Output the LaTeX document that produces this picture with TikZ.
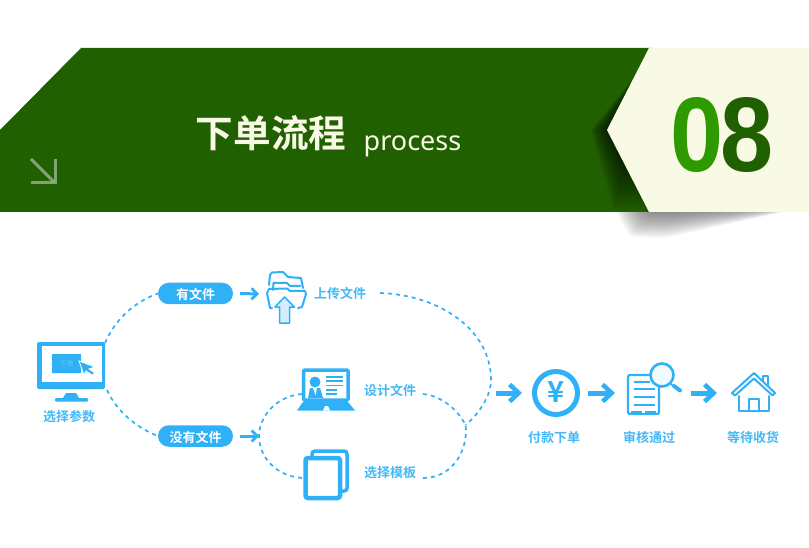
\documentclass[tikz,border=0pt]{standalone}
\usepackage{fontspec}
\usetikzlibrary{shapes.misc,arrows.meta}
\setmainfont{Noto Sans}
\newfontfamily\cjk{Noto Sans CJK SC}[BoldFont={Noto Sans CJK SC Bold}]
\newfontfamily\numfont{Liberation Sans}
\definecolor{bandgreen}{HTML}{216000}
\definecolor{cream}{HTML}{F9FAE6}
\definecolor{skyb}{HTML}{30B0F6}
\definecolor{lime}{HTML}{2E9A00}
\definecolor{paleb}{HTML}{D6EEFC}
\tikzset{
  x=1pt,y=-1pt,
  pill/.style={rounded rectangle,fill=skyb,text=white,minimum width=75pt,minimum height=21.5pt,inner sep=0pt,text height=12pt,text depth=0pt,font=\cjk\bfseries\fontsize{13}{13}\selectfont},
  lab/.style={text=skyb,inner sep=0pt,text height=10.5pt,text depth=1.5pt,font=\cjk\bfseries\fontsize{13}{13}\selectfont,opacity=.9},
  dashline/.style={draw=skyb,line width=1.7pt,dash pattern=on 4pt off 4pt},
  thick arrow/.style={draw=skyb,line width=5pt,-{Straight Barb[length=9pt,width=17pt,line width=4.6pt]}},
  small arrow/.style={draw=skyb,line width=3pt,-{Straight Barb[length=5.5pt,width=11pt,line width=2.8pt]}},
  iconline/.style={draw=skyb,line width=2pt,line join=round,line cap=round},
}
\begin{document}
\begin{tikzpicture}
\useasboundingbox (0,0) rectangle (809,548);
% drop shadow under the cream tab
\foreach \i in {0,...,15}{
  \fill[black,opacity=.035,rounded corners=5pt] (612+\i*1.8,205) -- (815,205) -- (665,{212+(26-1.6*\i)}) -- (630+\i*1.3,{212+(25-1.6*\i)}) -- cycle;
}
% band
\fill[bandgreen] (0,130) -- (81,48) -- (652,48) -- (652,212) -- (0,212) -- cycle;
\begin{scope}
\clip (0,48) rectangle (652,212);
\foreach \i in {0,...,17}{
  \fill[black!70!bandgreen,opacity=.08] (650,58) -- (606-\i*.9,130) -- (648-\i*2,212) -- cycle;
}
\end{scope}
\fill[cream] (649,48) -- (809,48) -- (809,212) -- (649,212) -- (607,130) -- cycle;
% corner arrow
\draw[bandgreen!45!white,opacity=.8,line width=3pt] (31,159) -- (54,182);
\draw[bandgreen!45!white,opacity=.8,line width=3pt] (55.5,159) -- (55.5,183) -- (31,183);
% titles
\node[text=cream,inner sep=0pt,font=\cjk\bfseries\fontsize{37.6}{38}\selectfont] (title) at (271,133) {下单流程};
\node[text=cream,inner sep=0pt,anchor=base west,font=\fontsize{27}{27}\selectfont] (sub) at (363.5,151) {process};
\node[inner sep=0pt,font=\numfont\bfseries\fontsize{106}{106}\selectfont,xscale=.9,text=lime] (num0) at (697.5,135) {0};
\node[inner sep=0pt,font=\numfont\bfseries\fontsize{106}{106}\selectfont,xscale=.9,text=bandgreen] (num8) at (747.5,135) {8};

% monitor
\fill[skyb,rounded corners=2pt] (37,342) rectangle (105,389);
\fill[white] (41.5,345.5) rectangle (101.5,382);
\fill[skyb] (63,398) -- (66,393) -- (76,393) -- (79,398) -- cycle;
\fill[skyb,rounded corners=1pt] (55,398) rectangle (88,401.5);
\node[fill=skyb,minimum width=29pt,minimum height=19pt,inner sep=0pt,text=white!30!skyb,font=\cjk\fontsize{7}{7}\selectfont,rounded corners=.5pt] (btn) at (66.5,363.5) {下单};
\fill[skyb,draw=white,line width=.8pt] (79,361) -- (95,367) -- (89,369) -- (95,373) -- (92,375) -- (86,371) -- (84,375) -- cycle;
\coordinate (monTop) at (105,343);
\coordinate (monBot) at (107,390);

% pills and labels
\node[pill] (has) at (195.5,293.5) {有文件};
\node[pill] (none) at (195.5,436) {没有文件};
\node[lab] (lpick) at (69,417) {选择参数};
\node[lab] (lup) at (340,294) {上传文件};
\node[lab] (ldes) at (390,391) {设计文件};
\node[lab] (ltpl) at (390,473) {选择模板};
\node[lab] (lpay) at (554,438) {付款下单};
\node[lab] (lrev) at (649,438) {审核通过};
\node[lab] (lwait) at (753,438) {等待收货};

% connector ends
\coordinate (folderIn) at (259,294);
\coordinate (loopIn) at (259,436);
\coordinate (lapL) at (302,394);
\coordinate (tplL) at (302,478);
\coordinate (upEnd) at (380,293);
\coordinate (desEnd) at (423,394);
\coordinate (tplEnd) at (423,478);
\coordinate (meet) at (465.5,425);
\coordinate (mergeOut) at (522,393);
\coordinate (mergeIn) at (496,393);
\coordinate (yenR) at (588,393);
\coordinate (docL) at (615,393);
\coordinate (docR) at (691,393);
\coordinate (homeL) at (717,393);

% dashed connectors
\draw[dashline] (monTop) .. controls (116,318) and (135,302) .. (has.west);
\draw[dashline] (monBot) .. controls (116,410) and (135,427) .. (none.west);
\draw[dashline] (upEnd) .. controls (440,295) and (491,330) .. (491,380) .. controls (491,395) and (480,413) .. (meet);
\draw[dashline] (desEnd) .. controls (442,396) and (458,410) .. (meet);
\draw[dashline] (tplEnd) .. controls (450,478) and (466,455) .. (466,430) -- (meet);
\draw[dashline] (lapL) .. controls (275,396) and (259,418) .. (loopIn);
\draw[dashline] (tplL) .. controls (275,476) and (259,456) .. (loopIn);

% arrows
\draw[small arrow] (has.east) ++(7,0) -- (folderIn);
\draw[small arrow] (none.east) ++(7,0) -- (loopIn);
\draw[thick arrow] (mergeIn) -- (mergeOut);
\draw[thick arrow] (yenR) -- (docL);
\draw[thick arrow] (docR) -- (homeL);

% upload icon
\draw[iconline] (269,285) -- (270,275) -- (272,272.5) -- (283,272) -- (288,277) -- (301,278) -- (303,288);
\draw[iconline] (273,290) -- (273.5,283) -- (287,283) -- (290,286) -- (300,286);
\draw[iconline] (272,308) -- (270,308) -- (267,293) -- (269,289) -- (287,288.5) -- (290,291) -- (305,291) -- (306,294) -- (302,307) -- (298,308);
\fill[paleb,draw=skyb,line width=1.5pt,line join=round] (284.5,297) -- (275,307) -- (279.5,307) -- (279.5,323) -- (289.5,323) -- (289.5,307) -- (294.5,307) -- cycle;

% laptop icon
\draw[skyb,line width=3.5pt,rounded corners=1pt,fill=white] (303.5,370) rectangle (348,400);
\fill[skyb] (303,402) -- (348,402) -- (355,410.5) -- (297,410.5) -- cycle;
\fill[white] (323,410.5) -- (325,406) -- (328,406) -- (330,410.5) -- cycle;
\fill[skyb] (315,382) circle (5.5);
\fill[skyb] (308,398) -- (310,388) -- (320,388) -- (323,398) -- cycle;
\fill[white] (313,388) -- (317,388) -- (315.5,395) -- cycle;
\draw[skyb,line width=1.2pt] (326,377) -- (343,377) (326,381) -- (343,381) (326,385.5) -- (343,385.5) (326,390) -- (337,390) (326,394) -- (337,394);

% template icon
\draw[skyb,line width=3.5pt,rounded corners=3pt,fill=white] (312,451) rectangle (347,491);
\draw[skyb,line width=4.5pt,rounded corners=2.5pt,fill=white] (305.5,458) rectangle (340,498);

% yen icon
\draw[skyb,line width=5pt] (556,393) circle (21.5);
\node[text=skyb,inner sep=0pt,font=\cjk\bfseries\fontsize{29}{29}\selectfont] (yen) at (556,392) {¥};

% review icon
\draw[skyb,line width=2.4pt,rounded corners=1.5pt] (628,375) rectangle (659,414);
\draw[skyb,line width=2pt] (634,382) -- (650,382) (634,389) -- (655,389) (634,397) -- (655,397) (634,405) -- (655,405);
\fill[skyb] (631,411) rectangle (656,413);
\fill[white] (642,411) rectangle (645,413);
\fill[paleb!30!white,draw=skyb,line width=2.6pt] (662,375) circle (11.5);
\draw[skyb,line width=1.5pt] (670,383) -- (673,386);
\draw[skyb,line width=4pt,line cap=round] (674,386) -- (680,390.5);

% house icon
\draw[iconline] (763,382) -- (763,375.5) -- (768,375.5) -- (768,387);
\draw[iconline,fill=white] (732,393) -- (754,373) -- (775,393) -- (772.5,395.5) -- (754,378.5) -- (735,395.5) -- cycle;
\draw[iconline] (738.5,396) -- (738.5,411) -- (768.5,411) -- (768.5,396);
\draw[iconline] (748.5,411) -- (748.5,398.5) -- (759,398.5) -- (759,411);
\end{tikzpicture}
\end{document}
